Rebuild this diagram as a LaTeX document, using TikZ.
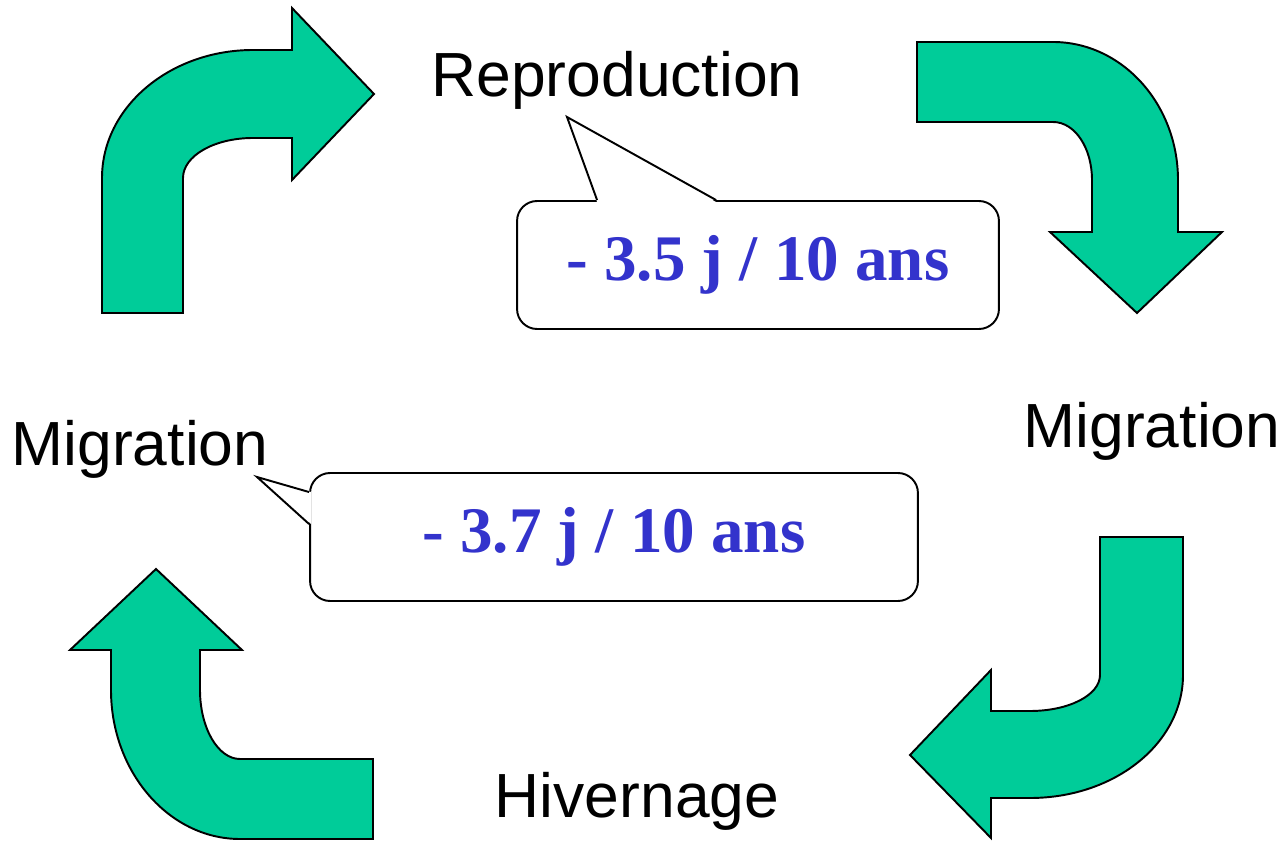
\documentclass[tikz,border=0pt]{standalone}
\usepackage{fontspec}
\usepackage{tikz}
\usetikzlibrary{calc}

\newfontfamily\stagefont{Liberation Sans}
\newfontfamily\ratefont{Liberation Serif}
\definecolor{arrowgreen}{RGB}{0,204,153}
\definecolor{rateblue}{RGB}{51,51,204}

\begin{document}
\begin{tikzpicture}[x=0.02cm, y=-0.02cm,
	turn/.style={fill=arrowgreen, draw=black, line width=1.1pt},
	stage/.style={anchor=base, inner sep=0pt, font=\stagefont\fontsize{35.5}{40}\selectfont},
	bubble/.style={draw=black, fill=white, line width=1.1pt, rounded corners=0.4cm, inner sep=0pt, text=rateblue, font=\ratefont\bfseries\fontsize{37}{40}\selectfont}]
	
	\useasboundingbox (0, 0) rectangle (1286, 841);
	
	% stages of the cycle
	\node[stage] (repro) at (617, 97)   {Reproduction};
	\node[stage] (migout) at (1152, 448) {Migration};
	\node[stage] (winter) at (637, 817)  {Hivernage};
	\node[stage] (migback) at (140, 465) {Migration};
	
	% bent arrows, clockwise from top left
	\path[turn] (102, 313) -- (102, 178) .. controls (102, 107) and (170, 50) .. (253, 50) -- (292, 50) -- (292, 8) -- (374, 94) -- (292, 180) -- (292, 138) -- (253, 138) .. controls (214, 138) and (183, 156) .. (183, 178) -- (183, 313) -- cycle;
	\path[turn] (917, 42) -- (1053, 42) .. controls (1122, 42) and (1178, 104) .. (1178, 180) -- (1178, 232) -- (1222, 232) -- (1137, 313) -- (1050, 232) -- (1092, 232) -- (1092, 180) .. controls (1092, 148) and (1075, 122) .. (1053, 122) -- (917, 122) -- cycle;
	\path[turn] (1100, 537) -- (1183, 537) -- (1183, 675) .. controls (1183, 743) and (1115, 798) .. (1030, 798) -- (991, 798) -- (991, 838) -- (910, 755) -- (991, 670) -- (991, 711) -- (1030, 711) .. controls (1069, 711) and (1100, 695) .. (1100, 675) -- cycle;
	\path[turn] (373, 759) -- (373, 839) -- (240, 839) .. controls (169, 839) and (111, 772) .. (111, 690) -- (111, 650) -- (70, 650) -- (156, 569) -- (242, 650) -- (200, 650) -- (200, 690) .. controls (200, 728) and (218, 759) .. (240, 759) -- cycle;
	
	% rate bubbles
	\node[bubble, minimum width=9.64cm, minimum height=2.56cm] (springrate) at (758, 265) {- 3.5 j / 10 ans};
	\coordinate (springtip) at (567, 117);
	\fill[white] ($(springrate.north west)+(81, 2)$) -- (springtip) -- ($(springrate.north west)+(200, 2)$) -- cycle;
	\draw[line width=1.1pt] ($(springrate.north west)+(81, 0)$) -- (springtip) -- ($(springrate.north west)+(200, 0)$);
	
	\node[bubble, minimum width=12.16cm, minimum height=2.56cm] (autumnrate) at (614, 537) {- 3.7 j / 10 ans};
	\coordinate (autumntip) at (257, 477);
	\fill[white] ($(autumnrate.north west)+(2, 20)$) -- (autumntip) -- ($(autumnrate.north west)+(2, 52)$) -- cycle;
	\draw[line width=1.1pt] ($(autumnrate.north west)+(0, 20)$) -- (autumntip) -- ($(autumnrate.north west)+(0, 52)$);
	
\end{tikzpicture}
\end{document}
